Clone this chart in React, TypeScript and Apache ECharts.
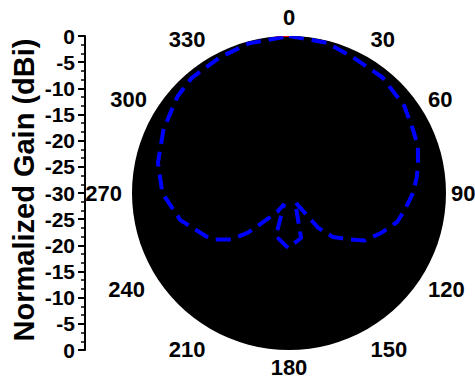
import React, { useEffect, useRef } from 'react';
import * as echarts from 'echarts';

// Angle (degrees, clockwise from top) and normalized gain (dBi) of the dashed pattern
const patternAngles = [0, 14, 25, 39, 53, 63, 70, 77, 83, 90, 98, 105, 113, 122, 128, 135, 140, 146, 165, 181, 197, 204, 212, 222, 226, 231, 238, 242, 256, 270, 283, 297, 311, 320, 333, 345, 360];
const patternGain = [0, -0.4, -1.3, -1.6, -2.4, -3.4, -3.8, -4.7, -5.4, -6.3, -7.6, -8.6, -10.7, -12.9, -15.6, -18.1, -21.3, -27.9, -21.1, -19.5, -21.4, -27.7, -25.7, -22.3, -19.1, -15.9, -13.2, -12.2, -8.6, -5.8, -4.3, -3.1, -1.8, -1.2, -0.9, -0.4, 0];

// small red trace visible at the top edge
const redAngles = [355, 360];
const redGain = [0, 0];

const angleLabels = [0, 30, 60, 90, 120, 150, 180, 210, 240, 270, 300, 330];
const gainMin = -30;
const gainMax = 0;
const gainStep = 5;
const axisTitle = 'Normalized Gain (dBi)';

const FONT = '"Liberation Sans", Arial, Helvetica, sans-serif';

// per-label padding [top, right, bottom, left]
const labelPad: Record<number, number[]> = {
  0: [0, 0, 8, 0],
  30: [0, 0, 7, 3],
  60: [0, 0, 4, 3],
  90: [0, 0, 0, 5],
  120: [7, 0, 0, 3],
  150: [10, 0, 0, 3],
  180: [6, 0, 0, 0],
  210: [10, 5, 0, 0],
  240: [7, 8, 0, 0],
  270: [0, 10, 0, 0],
  300: [0, 6, 4, 0],
  330: [0, 5, 7, 0],
};

export default function App() {
  const ref = useRef<HTMLDivElement>(null);

  useEffect(() => {
    if (!ref.current) return;
    const chart = echarts.init(ref.current, undefined, { renderer: 'svg' });

    const rich: Record<string, any> = {};
    angleLabels.forEach((a) => {
      rich['l' + a] = {
        fontSize: 22,
        fontWeight: 'bold',
        fontFamily: FONT,
        color: '#000',
        padding: labelPad[a],
      };
    });

    const yAxisCommon = {
      type: 'value' as const,
      min: gainMin,
      max: gainMax,
      interval: gainStep,
      position: 'left' as const,
      axisLine: { show: true, lineStyle: { color: '#000', width: 2 } },
      axisTick: { show: true, inside: false, length: 7, lineStyle: { color: '#000', width: 2 } },
      minorTick: { show: true, splitNumber: 3, length: 4, lineStyle: { color: '#000', width: 1.5 } },
      splitLine: { show: false },
      axisLabel: {
        margin: 10,
        fontSize: 21,
        fontWeight: 'bold' as const,
        fontFamily: FONT,
        color: '#000',
      },
    };

    const option: any = {
      animation: false,
      backgroundColor: '#fff',
      polar: { center: [289, 193], radius: 157 },
      angleAxis: {
        type: 'value',
        min: 0,
        max: 360,
        interval: 30,
        startAngle: 90,
        clockwise: true,
        axisLine: { show: false },
        axisTick: { show: false },
        splitLine: { show: false },
        axisLabel: {
          margin: 0,
          fontSize: 22,
          fontWeight: 'bold',
          fontFamily: FONT,
          color: '#000',
          formatter: (v: number) => `{l${v}|${v}}`,
          rich,
        },
      },
      radiusAxis: {
        type: 'value',
        min: gainMin,
        max: gainMax,
        interval: 30,
        axisLine: { show: false },
        axisTick: { show: false },
        axisLabel: { show: false },
        splitLine: { show: false },
        splitArea: { show: true, areaStyle: { color: ['#000000'], opacity: 1 } },
      },
      grid: [
        { left: 85, top: 36, width: 10, height: 157 },
        { left: 85, top: 193, width: 10, height: 157 },
      ],
      xAxis: [
        { type: 'value', gridIndex: 0, show: false, min: 0, max: 1 },
        { type: 'value', gridIndex: 1, show: false, min: 0, max: 1 },
      ],
      yAxis: [
        { ...yAxisCommon, gridIndex: 0 },
        { ...yAxisCommon, gridIndex: 1, inverse: true, axisLabel: { ...yAxisCommon.axisLabel, showMinLabel: false } },
      ],
      graphic: [
        {
          type: 'text',
          x: 24,
          y: 190,
          rotation: Math.PI / 2,
          style: {
            text: axisTitle,
            fontSize: 29,
            fontWeight: 'bold',
            fontFamily: FONT,
            fill: '#000',
            align: 'center',
            verticalAlign: 'middle',
          },
        },
      ],
      series: [
        {
          type: 'line',
          coordinateSystem: 'polar',
          showSymbol: false,
          symbol: 'none',
          data: redAngles.map((a, i) => [redGain[i], a]),
          lineStyle: { color: '#ff0000', width: 2 },
          z: 2,
        },
        {
          type: 'line',
          coordinateSystem: 'polar',
          showSymbol: false,
          symbol: 'none',
          data: patternAngles.map((a, i) => [patternGain[i], a]),
          lineStyle: { color: '#0000ff', width: 4, type: [15, 8] },
          z: 3,
        },
      ],
    };

    chart.setOption(option);
    return () => chart.dispose();
  }, []);

  return (
    <div
      ref={ref}
      style={{ position: 'absolute', left: 0, top: 0, width: 475, height: 379 }}
    />
  );
}
